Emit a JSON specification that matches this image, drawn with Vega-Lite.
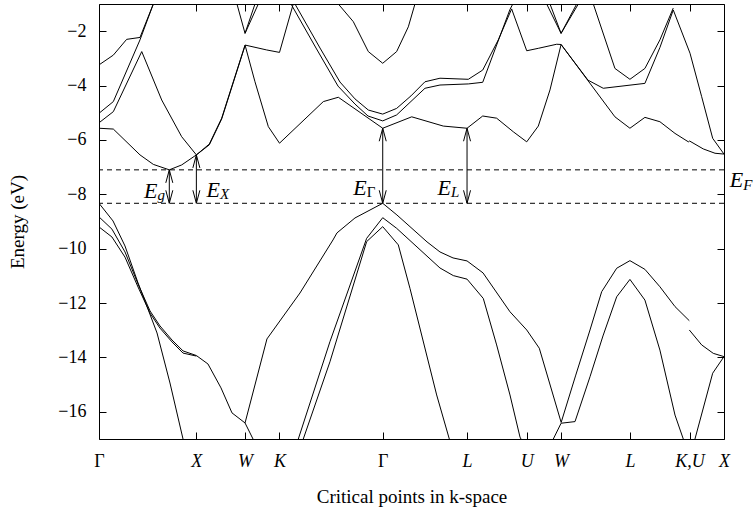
{
  "$schema": "https://vega.github.io/schema/vega-lite/v6.json",
  "width": 625,
  "height": 435,
  "autosize": {"type": "none"},
  "padding": {"left": 99, "top": 4, "right": 29, "bottom": 73},
  "background": "white",
  "config": {
    "view": {"stroke": "black", "strokeWidth": 1},
    "axis": {
      "grid": false, "domain": false,
      "tickColor": "black", "tickSize": -7, "tickWidth": 1,
      "labelFont": "Liberation Serif", "labelFontSize": 18, "labelColor": "black",
      "titleFont": "Liberation Serif", "titleFontSize": 19, "titleFontWeight": "normal", "titleColor": "black",
      "labelFlush": false, "labelOverlap": false, "labelBound": false
    },
    "text": {"font": "Liberation Serif", "color": "black"}
  },
  "datasets": {
    "bands": [
      {"b": "va", "k": 0, "E": -8.33}, {"b": "va", "k": 0.144, "E": -8.98}, {"b": "va", "k": 0.267, "E": -9.9}, {"b": "va", "k": 0.401, "E": -11.26}, {"b": "va", "k": 0.503, "E": -12.22}, {"b": "va", "k": 0.596, "E": -13.1}, {"b": "va", "k": 0.729, "E": -14.94}, {"b": "va", "k": 0.863, "E": -17.0},
      {"b": "vb", "k": 0, "E": -8.83}, {"b": "vb", "k": 0.133, "E": -9.28}, {"b": "vb", "k": 0.267, "E": -10.12}, {"b": "vb", "k": 0.401, "E": -11.3}, {"b": "vb", "k": 0.524, "E": -12.29}, {"b": "vb", "k": 0.626, "E": -12.84}, {"b": "vb", "k": 0.75, "E": -13.36}, {"b": "vb", "k": 0.863, "E": -13.76}, {"b": "vb", "k": 1.0, "E": -13.93}, {"b": "vb", "k": 1.119, "E": -14.24}, {"b": "vb", "k": 1.253, "E": -15.12}, {"b": "vb", "k": 1.366, "E": -16.04}, {"b": "vb", "k": 1.5, "E": -16.41}, {"b": "vb", "k": 1.582, "E": -17.0},
      {"b": "vc", "k": 0, "E": -9.2}, {"b": "vc", "k": 0.133, "E": -9.57}, {"b": "vc", "k": 0.267, "E": -10.31}, {"b": "vc", "k": 0.401, "E": -11.41}, {"b": "vc", "k": 0.524, "E": -12.37}, {"b": "vc", "k": 0.626, "E": -12.92}, {"b": "vc", "k": 0.75, "E": -13.43}, {"b": "vc", "k": 0.863, "E": -13.84}, {"b": "vc", "k": 1.0, "E": -13.95},
      {"b": "v1", "k": 1.5, "E": -16.41}, {"b": "v1", "k": 1.725, "E": -13.32}, {"b": "v1", "k": 2.064, "E": -11.63}, {"b": "v1", "k": 2.403, "E": -9.68}, {"b": "v1", "k": 2.444, "E": -9.42}, {"b": "v1", "k": 2.629, "E": -8.87}, {"b": "v1", "k": 2.914, "E": -8.33}, {"b": "v1", "k": 3.06, "E": -8.76}, {"b": "v1", "k": 3.369, "E": -9.75}, {"b": "v1", "k": 3.502, "E": -10.12}, {"b": "v1", "k": 3.636, "E": -10.34}, {"b": "v1", "k": 3.78, "E": -10.45}, {"b": "v1", "k": 3.944, "E": -10.89}, {"b": "v1", "k": 4.221, "E": -12.32}, {"b": "v1", "k": 4.393, "E": -12.99}, {"b": "v1", "k": 4.522, "E": -13.66}, {"b": "v1", "k": 4.746, "E": -16.38},
      {"b": "v1b", "k": 4.746, "E": -16.4}, {"b": "v1b", "k": 4.894, "E": -14.68}, {"b": "v1b", "k": 5.043, "E": -12.99}, {"b": "v1b", "k": 5.163, "E": -11.58}, {"b": "v1b", "k": 5.317, "E": -10.72}, {"b": "v1b", "k": 5.453, "E": -10.44}, {"b": "v1b", "k": 5.607, "E": -10.76}, {"b": "v1b", "k": 5.761, "E": -11.4}, {"b": "v1b", "k": 5.916, "E": -12.13}, {"b": "v1b", "k": 6.063, "E": -12.65},
      {"b": "v1c", "k": 6.063, "E": -12.99}, {"b": "v1c", "k": 6.19, "E": -13.54}, {"b": "v1c", "k": 6.309, "E": -13.85}, {"b": "v1c", "k": 6.419, "E": -13.97},
      {"b": "v2b", "k": 4.666, "E": -17.0}, {"b": "v2b", "k": 4.746, "E": -16.42}, {"b": "v2b", "k": 4.889, "E": -16.36}, {"b": "v2b", "k": 5.043, "E": -14.71}, {"b": "v2b", "k": 5.176, "E": -13.21}, {"b": "v2b", "k": 5.317, "E": -11.77}, {"b": "v2b", "k": 5.453, "E": -11.13}, {"b": "v2b", "k": 5.607, "E": -11.89}, {"b": "v2b", "k": 5.761, "E": -13.73}, {"b": "v2b", "k": 5.916, "E": -16.12}, {"b": "v2b", "k": 6.001, "E": -17.0},
      {"b": "vx", "k": 6.121, "E": -17.0}, {"b": "vx", "k": 6.303, "E": -14.58}, {"b": "vx", "k": 6.419, "E": -13.97},
      {"b": "v2", "k": 2.047, "E": -17.0}, {"b": "v2", "k": 2.372, "E": -13.42}, {"b": "v2", "k": 2.749, "E": -9.62}, {"b": "v2", "k": 2.914, "E": -8.86}, {"b": "v2", "k": 3.057, "E": -9.25}, {"b": "v2", "k": 3.502, "E": -10.71}, {"b": "v2", "k": 3.639, "E": -10.99}, {"b": "v2", "k": 3.78, "E": -11.12}, {"b": "v2", "k": 3.947, "E": -11.83}, {"b": "v2", "k": 4.084, "E": -13.54}, {"b": "v2", "k": 4.221, "E": -15.38}, {"b": "v2", "k": 4.324, "E": -16.93}, {"b": "v2", "k": 4.334, "E": -17.0},
      {"b": "v3", "k": 2.098, "E": -17.0}, {"b": "v3", "k": 2.372, "E": -14.16}, {"b": "v3", "k": 2.749, "E": -9.74}, {"b": "v3", "k": 2.914, "E": -9.19}, {"b": "v3", "k": 3.074, "E": -9.86}, {"b": "v3", "k": 3.194, "E": -11.46}, {"b": "v3", "k": 3.468, "E": -15.38}, {"b": "v3", "k": 3.598, "E": -17.0},
      {"b": "c1", "k": 0, "E": -3.24}, {"b": "c1", "k": 0.147, "E": -2.88}, {"b": "c1", "k": 0.284, "E": -2.3}, {"b": "c1", "k": 0.421, "E": -2.23}, {"b": "c1", "k": 0.558, "E": -1.0},
      {"b": "c2", "k": 0, "E": -5.02}, {"b": "c2", "k": 0.147, "E": -4.59}, {"b": "c2", "k": 0.421, "E": -2.32}, {"b": "c2", "k": 0.558, "E": -1.0},
      {"b": "c3", "k": 0, "E": -5.37}, {"b": "c3", "k": 0.147, "E": -4.96}, {"b": "c3", "k": 0.439, "E": -2.75}, {"b": "c3", "k": 0.644, "E": -4.53}, {"b": "c3", "k": 0.849, "E": -5.88}, {"b": "c3", "k": 1.0, "E": -6.55}, {"b": "c3", "k": 1.133, "E": -6.15}, {"b": "c3", "k": 1.26, "E": -5.2}, {"b": "c3", "k": 1.5, "E": -2.51},
      {"b": "c4", "k": 0, "E": -5.57}, {"b": "c4", "k": 0.147, "E": -5.6}, {"b": "c4", "k": 0.421, "E": -6.55}, {"b": "c4", "k": 0.558, "E": -6.9}, {"b": "c4", "k": 0.722, "E": -7.1}, {"b": "c4", "k": 0.849, "E": -6.92}, {"b": "c4", "k": 1.0, "E": -6.55}, {"b": "c4", "k": 1.133, "E": -6.18}, {"b": "c4", "k": 1.26, "E": -5.23}, {"b": "c4", "k": 1.5, "E": -2.53},
      {"b": "wva", "k": 1.417, "E": -1.0}, {"b": "wva", "k": 1.5, "E": -2.08}, {"b": "wva", "k": 1.602, "E": -1.0},
      {"b": "wvb", "k": 1.5, "E": -2.08}, {"b": "wvb", "k": 1.636, "E": -1.0},
      {"b": "wk1", "k": 1.5, "E": -2.51}, {"b": "wk1", "k": 1.722, "E": -2.69}, {"b": "wk1", "k": 1.854, "E": -2.78}, {"b": "wk1", "k": 1.995, "E": -1.0},
      {"b": "wk2", "k": 1.5, "E": -2.51}, {"b": "wk2", "k": 1.602, "E": -3.86}, {"b": "wk2", "k": 1.739, "E": -5.51}, {"b": "wk2", "k": 1.854, "E": -6.12}, {"b": "wk2", "k": 2.304, "E": -4.59}, {"b": "wk2", "k": 2.458, "E": -4.43}, {"b": "wk2", "k": 2.914, "E": -5.57}, {"b": "wk2", "k": 3.212, "E": -5.15}, {"b": "wk2", "k": 3.536, "E": -5.49}, {"b": "wk2", "k": 3.78, "E": -5.57}, {"b": "wk2", "k": 3.941, "E": -5.12}, {"b": "wk2", "k": 4.084, "E": -5.2}, {"b": "wk2", "k": 4.255, "E": -5.7}, {"b": "wk2", "k": 4.393, "E": -6.07}, {"b": "wk2", "k": 4.512, "E": -5.49}, {"b": "wk2", "k": 4.632, "E": -4.16}, {"b": "wk2", "k": 4.746, "E": -2.49},
      {"b": "p1", "k": 2.013, "E": -1.0}, {"b": "p1", "k": 2.27, "E": -2.62}, {"b": "p1", "k": 2.475, "E": -3.87}, {"b": "p1", "k": 2.629, "E": -4.49}, {"b": "p1", "k": 2.766, "E": -4.9}, {"b": "p1", "k": 2.914, "E": -5.05}, {"b": "p1", "k": 3.057, "E": -4.84}, {"b": "p1", "k": 3.204, "E": -4.38}, {"b": "p1", "k": 3.348, "E": -3.86}, {"b": "p1", "k": 3.502, "E": -3.73}, {"b": "p1", "k": 3.793, "E": -3.77}, {"b": "p1", "k": 3.941, "E": -3.43}, {"b": "p1", "k": 4.101, "E": -2.32}, {"b": "p1", "k": 4.238, "E": -1.18}, {"b": "p1", "k": 4.393, "E": -2.72}, {"b": "p1", "k": 4.512, "E": -2.63}, {"b": "p1", "k": 4.701, "E": -2.48}, {"b": "p1", "k": 4.746, "E": -2.49},
      {"b": "p2", "k": 1.972, "E": -1.0}, {"b": "p2", "k": 2.229, "E": -2.62}, {"b": "p2", "k": 2.455, "E": -4.02}, {"b": "p2", "k": 2.629, "E": -4.68}, {"b": "p2", "k": 2.763, "E": -5.12}, {"b": "p2", "k": 2.914, "E": -5.3}, {"b": "p2", "k": 3.057, "E": -5.08}, {"b": "p2", "k": 3.348, "E": -4.1}, {"b": "p2", "k": 3.502, "E": -3.98}, {"b": "p2", "k": 3.793, "E": -3.94}, {"b": "p2", "k": 3.941, "E": -3.88}, {"b": "p2", "k": 4.084, "E": -2.51}, {"b": "p2", "k": 4.221, "E": -1.2}, {"b": "p2", "k": 4.25, "E": -1.0},
      {"b": "p0", "k": 2.458, "E": -1.0}, {"b": "p0", "k": 2.612, "E": -1.65}, {"b": "p0", "k": 2.766, "E": -2.75}, {"b": "p0", "k": 2.914, "E": -3.18}, {"b": "p0", "k": 3.057, "E": -2.75}, {"b": "p0", "k": 3.177, "E": -1.84}, {"b": "p0", "k": 3.245, "E": -1.0},
      {"b": "wvr1", "k": 4.598, "E": -1.0}, {"b": "wvr1", "k": 4.746, "E": -2.08}, {"b": "wvr1", "k": 4.906, "E": -1.0},
      {"b": "wvr2", "k": 4.632, "E": -1.0}, {"b": "wvr2", "k": 4.746, "E": -2.08}, {"b": "wvr2", "k": 4.923, "E": -1.0},
      {"b": "r0", "k": 5.077, "E": -1.0}, {"b": "r0", "k": 5.299, "E": -3.37}, {"b": "r0", "k": 5.453, "E": -3.77}, {"b": "r0", "k": 5.607, "E": -3.37}, {"b": "r0", "k": 5.761, "E": -2.32}, {"b": "r0", "k": 5.898, "E": -1.15},
      {"b": "r1", "k": 4.746, "E": -2.49}, {"b": "r1", "k": 5.022, "E": -3.8}, {"b": "r1", "k": 5.179, "E": -4.1}, {"b": "r1", "k": 5.607, "E": -3.92}, {"b": "r1", "k": 5.761, "E": -2.6}, {"b": "r1", "k": 5.898, "E": -1.22}, {"b": "r1", "k": 6.07, "E": -2.81}, {"b": "r1", "k": 6.19, "E": -4.41}, {"b": "r1", "k": 6.303, "E": -5.94}, {"b": "r1", "k": 6.419, "E": -6.52},
      {"b": "r2", "k": 4.746, "E": -2.49}, {"b": "r2", "k": 5.299, "E": -5.15}, {"b": "r2", "k": 5.453, "E": -5.57}, {"b": "r2", "k": 5.607, "E": -5.17}, {"b": "r2", "k": 5.761, "E": -5.33}, {"b": "r2", "k": 5.916, "E": -5.76}, {"b": "r2", "k": 6.053, "E": -6.07}, {"b": "r2", "k": 6.066, "E": -6.04}, {"b": "r2", "k": 6.206, "E": -6.33}, {"b": "r2", "k": 6.327, "E": -6.49}, {"b": "r2", "k": 6.419, "E": -6.52}
    ],
    "levels": [{"name": "EF", "E": -7.1}, {"name": "VBM", "E": -8.33}],
    "gaps": [
      {"gap": "g", "k": 0.722, "lo": -8.33, "hi": -7.1},
      {"gap": "X", "k": 1.0, "lo": -8.33, "hi": -6.55},
      {"gap": "Γ", "k": 2.914, "lo": -8.33, "hi": -5.57},
      {"gap": "L", "k": 3.78, "lo": -8.33, "hi": -5.57}
    ],
    "labels": [
      {"sub": "g", "k": 0.6, "yE": -8.14, "ys": -8.21},
      {"sub": "X", "k": 1.243, "yE": -8.11, "ys": -8.18},
      {"sub": "Γ", "k": 2.749, "yE": -8.03, "ys": -8.11},
      {"sub": "L", "k": 3.615, "yE": -8.03, "ys": -8.11},
      {"sub": "F", "k": 6.617, "yE": -7.72, "ys": -7.84}
    ]
  },
  "resolve": {"axis": {"x": "independent", "y": "independent"}},
  "layer": [
    {
      "data": {"name": "bands"},
      "mark": {"type": "line", "clip": true, "strokeWidth": 1, "color": "black"},
      "encoding": {
        "x": {
          "field": "k", "type": "quantitative",
          "scale": {"domain": [0, 6.4192], "nice": false, "zero": false},
          "axis": {
            "orient": "bottom",
            "values": [0, 1, 1.5, 1.8536, 2.9142, 3.7803, 4.3926, 4.7462, 5.4533, 6.0657, 6.4192],
            "labelExpr": "datum.value < 0.5 ? 'Γ' : datum.value < 1.2 ? 'X' : datum.value < 1.7 ? 'W' : datum.value < 2.3 ? 'K' : datum.value < 3.3 ? 'Γ' : datum.value < 4.1 ? 'L' : datum.value < 4.6 ? 'U' : datum.value < 5.1 ? 'W' : datum.value < 5.8 ? 'L' : datum.value < 6.3 ? 'K,U' : 'X'",
            "labelFont": "Liberation Serif",
            "labelFontStyle": {"condition": {"test": "datum.value < 0.5 || (datum.value > 2.5 && datum.value < 3.3)", "value": "normal"}, "value": "italic"},
            "labelPadding": 20,
            "title": "Critical points in k-space",
            "titleFont": "Liberation Serif",
            "titlePadding": 17
          }
        },
        "y": {
          "field": "E", "type": "quantitative",
          "scale": {"domain": [-17, -1], "nice": false, "zero": false},
          "axis": {
            "orient": "left",
            "values": [-16, -14, -12, -10, -8, -6, -4, -2],
            "labelFont": "Liberation Serif",
            "labelPadding": 20,
            "title": "Energy (eV)",
            "titleFont": "Liberation Serif",
            "titlePadding": 30
          }
        },
        "detail": {"field": "b"}
      }
    },
    {
      "data": {"name": "levels"},
      "mark": {"type": "rule", "strokeDash": [5, 4], "strokeWidth": 1, "color": "black"},
      "encoding": {
        "y": {"field": "E", "type": "quantitative", "axis": null}
      }
    },
    {
      "data": {"name": "gaps"},
      "mark": {"type": "rule", "strokeWidth": 1, "color": "black"},
      "encoding": {
        "x": {"field": "k", "type": "quantitative", "axis": null},
        "y": {"field": "lo", "type": "quantitative", "axis": null},
        "y2": {"field": "hi"}
      }
    },
    {
      "data": {"name": "gaps"},
      "mark": {"type": "point", "shape": "M-0.35,1.3L0,0L0.35,1.3", "size": 400, "filled": false, "stroke": "black", "strokeWidth": 1, "opacity": 1},
      "encoding": {
        "x": {"field": "k", "type": "quantitative", "axis": null},
        "y": {"field": "hi", "type": "quantitative", "axis": null}
      }
    },
    {
      "data": {"name": "gaps"},
      "mark": {"type": "point", "shape": "M-0.35,-1.3L0,0L0.35,-1.3", "size": 400, "filled": false, "stroke": "black", "strokeWidth": 1, "opacity": 1},
      "encoding": {
        "x": {"field": "k", "type": "quantitative", "axis": null},
        "y": {"field": "lo", "type": "quantitative", "axis": null}
      }
    },
    {
      "data": {"name": "labels"},
      "mark": {"type": "text", "text": "E", "font": "Liberation Serif", "fontStyle": "italic", "fontSize": 22, "align": "right", "baseline": "alphabetic"},
      "encoding": {
        "x": {"field": "k", "type": "quantitative", "axis": null},
        "y": {"field": "yE", "type": "quantitative", "axis": null}
      }
    },
    {
      "data": {"name": "labels"},
      "transform": [{"filter": "datum.sub !== 'Γ'"}],
      "mark": {"type": "text", "font": "Liberation Serif", "fontStyle": "italic", "fontSize": 15, "align": "left", "baseline": "alphabetic"},
      "encoding": {
        "x": {"field": "k", "type": "quantitative", "axis": null},
        "y": {"field": "ys", "type": "quantitative", "axis": null},
        "text": {"field": "sub"}
      }
    },
    {
      "data": {"name": "labels"},
      "transform": [{"filter": "datum.sub === 'Γ'"}],
      "mark": {"type": "text", "font": "Liberation Serif", "fontSize": 15, "align": "left", "baseline": "alphabetic"},
      "encoding": {
        "x": {"field": "k", "type": "quantitative", "axis": null},
        "y": {"field": "ys", "type": "quantitative", "axis": null},
        "text": {"field": "sub"}
      }
    },
    {
      "data": {"name": "gaps"},
      "mark": {"type": "point", "opacity": 0},
      "encoding": {
        "x": {
          "field": "k", "type": "quantitative",
          "axis": {"orient": "top", "values": [0, 1, 1.5, 1.8536, 2.9142, 3.7803, 4.3926, 4.7462, 5.4533, 6.0657, 6.4192], "labels": false, "title": null}
        },
        "y": {
          "field": "lo", "type": "quantitative",
          "axis": {"orient": "right", "values": [-16, -14, -12, -10, -8, -6, -4, -2], "labels": false, "title": null}
        }
      }
    }
  ]
}
